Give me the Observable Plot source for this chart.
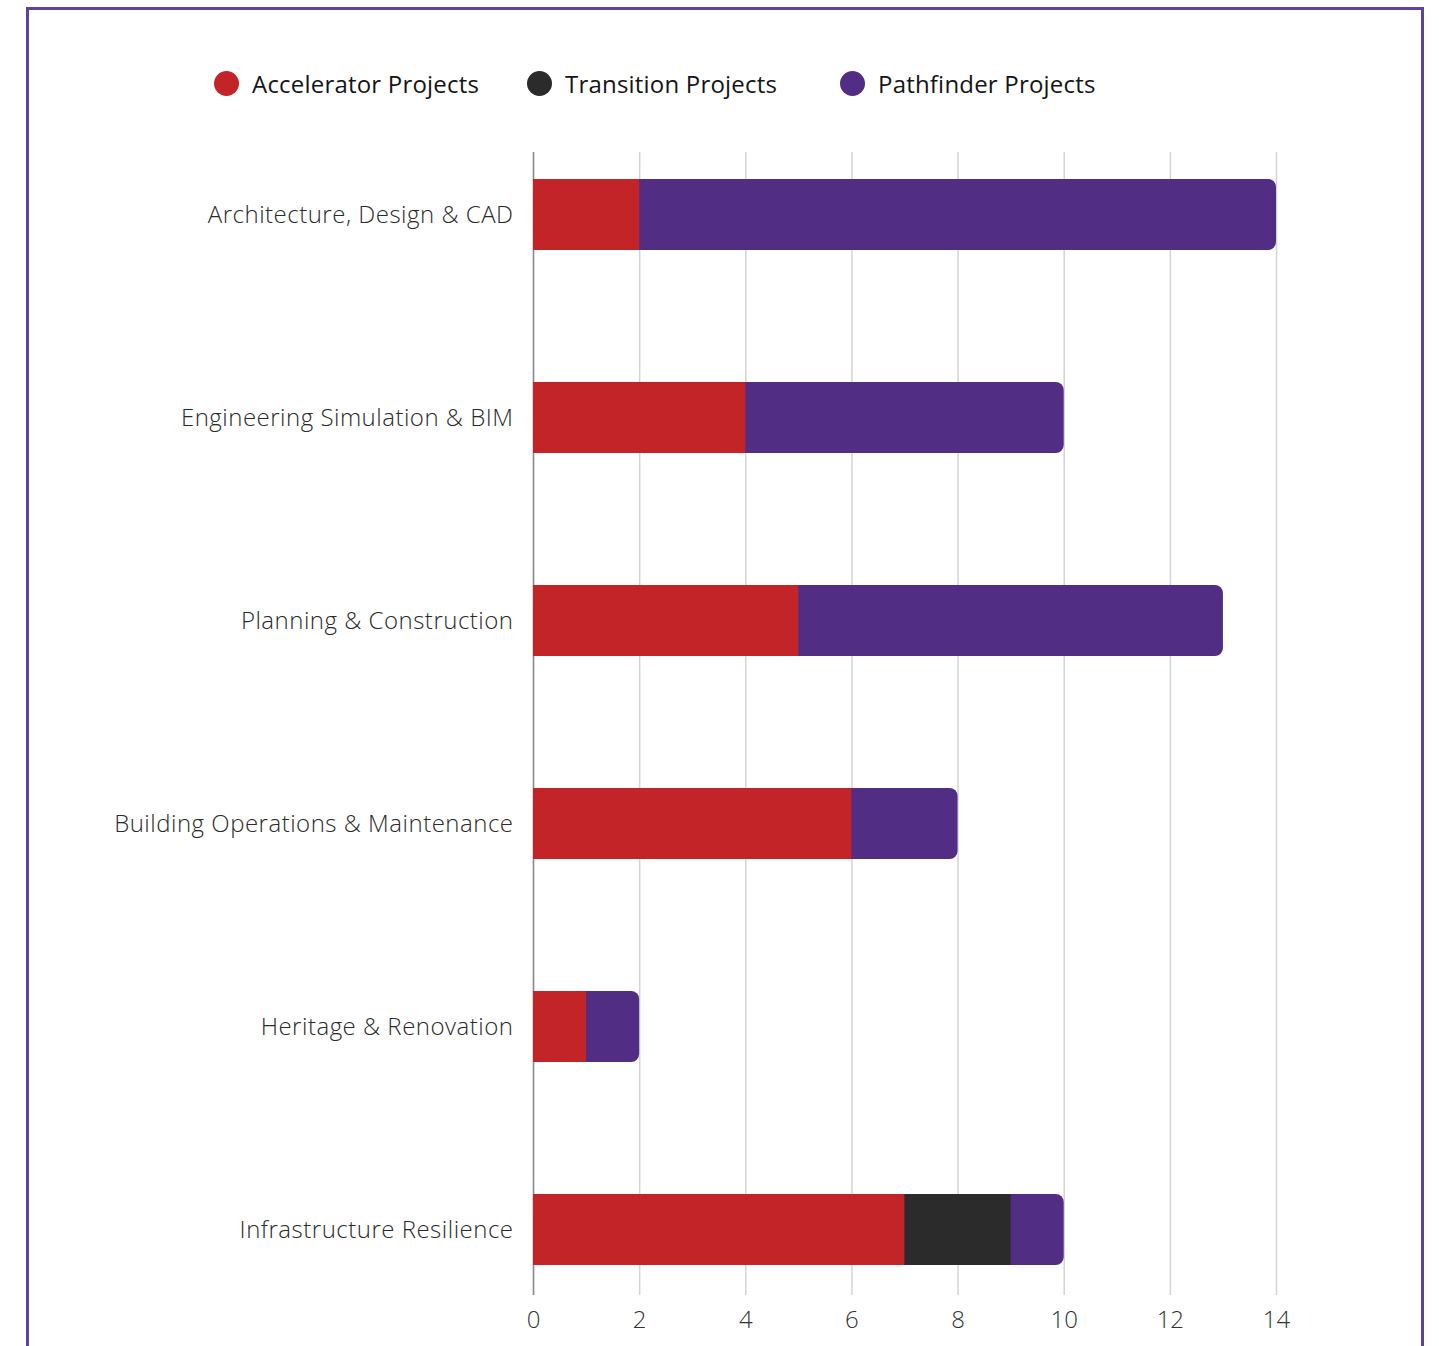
<!DOCTYPE html>
<html>
<head>
<meta charset="utf-8">
<script src="https://cdn.jsdelivr.net/npm/d3@7"></script>
<script src="https://cdn.jsdelivr.net/npm/@observablehq/plot@0.6"></script>
<style>
  html, body { margin: 0; padding: 0; background: #fff; }
  body { width: 1439px; height: 1346px; position: relative; overflow: hidden; font-family: "Open Sans", "Noto Sans", sans-serif; }
  #frame { position: absolute; left: 26px; top: 7px; width: 1392px; height: 1400px; border: 3px solid #5e42a0; }
  #legend { position: absolute; left: 214px; top: 67px; display: flex; }
  .item { width: 313px; display: flex; align-items: center; font-size: 24px; letter-spacing: 0.2px; color: #151515; font-weight: 400; }
  .dot { width: 25px; height: 25px; border-radius: 50%; margin-right: 13px; flex: none; }
  #chart { position: absolute; left: 0; top: 140px; }
  #chart svg text { font-weight: 300; }
  #chart svg g[aria-label="y-axis tick label"] text { letter-spacing: 0.5px; }
</style>
</head>
<body>
<div id="frame"></div>
<div id="legend"></div>
<div id="chart"></div>
<script>
const categories = [
  "Architecture, Design & CAD",
  "Engineering Simulation & BIM",
  "Planning & Construction",
  "Building Operations & Maintenance",
  "Heritage & Renovation",
  "Infrastructure Resilience"
];
const accelerator = [2, 4, 5, 6, 1, 7];
const transition  = [0, 0, 0, 0, 0, 2];
const pathfinder  = [12, 6, 8, 2, 1, 1];
const seriesNames = ["Accelerator Projects", "Transition Projects", "Pathfinder Projects"];
const seriesColors = ["#c22428", "#2b2b2b", "#522d84"];
const xTicks = [0, 2, 4, 6, 8, 10, 12, 14];

// legend
const legend = document.getElementById("legend");
seriesNames.forEach((n, i) => {
  const it = document.createElement("div");
  it.className = "item";
  it.innerHTML = `<span class="dot" style="background:${seriesColors[i]}"></span><span>${n}</span>`;
  legend.appendChild(it);
});

const rows = categories.map((c, i) => ({
  cat: c,
  a: accelerator[i],
  t: transition[i],
  p: pathfinder[i],
  total: accelerator[i] + transition[i] + pathfinder[i]
}));

const chart = Plot.plot({
  width: 1439,
  height: 1195,
  marginLeft: 533,
  marginRight: 163,
  marginTop: 12,
  marginBottom: 40,
  style: { fontFamily: "'Open Sans', 'Noto Sans', sans-serif", fontSize: "22px", color: "#333", background: "transparent" },
  x: { domain: [0, 14], ticks: xTicks, label: null, tickSize: 0, tickPadding: 15 },
  y: { domain: categories, label: null, paddingInner: 0.65, paddingOuter: 0.1375, align: 0.47, tickSize: 0, tickPadding: 20 },
  marks: [
    Plot.gridX(xTicks, { stroke: "#d4d4d4", strokeOpacity: 1, strokeWidth: 1.5 }),
    Plot.ruleX([0], { stroke: "#8a8a8a", strokeWidth: 1.5 }),
    // Pathfinder (drawn under, spanning to the total, with rounded end)
    Plot.barX(rows, { y: "cat", x1: 0, x2: "total", fill: seriesColors[2], rx: 8 }),
    // Accelerator
    Plot.barX(rows, { y: "cat", x1: 0, x2: "a", fill: seriesColors[0] }),
    // Transition
    Plot.barX(rows.filter(d => d.t > 0), { y: "cat", x1: "a", x2: d => d.a + d.t, fill: seriesColors[1] }),
    Plot.axisX({ ticks: xTicks, tickSize: 0, tickPadding: 15, fill: "#333", fontSize: 24 }),
    Plot.axisY({ tickSize: 0, tickPadding: 20, fill: "#2a2a2a", fontSize: 24 })
  ]
});
document.getElementById("chart").appendChild(chart);
</script>
</body>
</html>
